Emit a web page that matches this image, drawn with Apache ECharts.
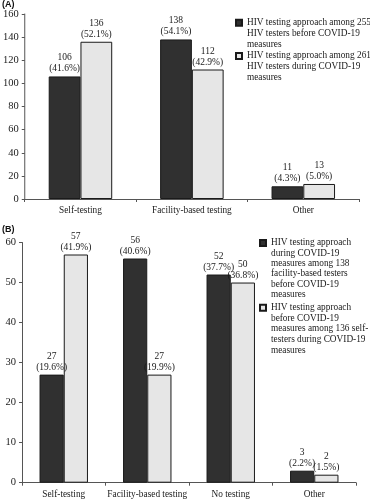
<!DOCTYPE html>
<html><head><meta charset="utf-8">
<script src="https://cdn.jsdelivr.net/npm/echarts@6/dist/echarts.min.js"></script>
<style>html,body{margin:0;padding:0;background:#fff}#c{width:370px;height:500px}</style>
</head><body><div id="c"></div>
<script>
// ---- Panel A data ----
const catsA = ['Self-testing', 'Facility-based testing', 'Other'];
const nameA1 = 'HIV testing approach among 255 HIV testers before COVID-19 measures';
const nameA2 = 'HIV testing approach among 261 HIV testers during COVID-19 measures';
const valsA1 = [106, 138, 11];
const valsA2 = [136, 112, 13];
const pctA1 = ['41.6%', '54.1%', '4.3%'];
const pctA2 = ['52.1%', '42.9%', '5.0%'];
const legA1 = ['HIV testing approach among 255', 'HIV testers before COVID-19', 'measures'];
const legA2 = ['HIV testing approach among 261', 'HIV testers during COVID-19', 'measures'];
const axisA = {min: 0, max: 160, interval: 20};

// ---- Panel B data ----
const catsB = ['Self-testing', 'Facility-based testing', 'No testing', 'Other'];
const nameB1 = 'HIV testing approach during COVID-19 measures among 138 facility-based testers before COVID-19 measures';
const nameB2 = 'HIV testing approach before COVID-19 measures among 136 self-testers during COVID-19 measures';
const valsB1 = [27, 56, 52, 3];
const valsB2 = [57, 27, 50, 2];
const pctB1 = ['19.6%', '40.6%', '37.7%', '2.2%'];
const pctB2 = ['41.9%', '19.9%', '36.8%', '1.5%'];
const legB1 = ['HIV testing approach', 'during COVID-19', 'measures among 138', 'facility-based testers', 'before COVID-19', 'measures'];
const legB2 = ['HIV testing approach', 'before COVID-19', 'measures among 136 self-', 'testers during COVID-19', 'measures'];
const axisB = {min: 0, max: 60, interval: 10};

const SERIF = 'Liberation Serif';
const TXT = '#1a1a1a';
const DARK = '#303030';
const LIGHT = '#e6e6e6';
const EDGE = '#1a1a1a';

function mkLegend(name, lines, left, firstY, lh) {
  const n = lines.length;
  const H = n * lh;
  const a = lh / 2 - 3, b = lh / 2 + 3;
  // square aligned with first text line; invisible move-to points stretch the icon box to the text block height
  const icon = 'path://M0,0 M0,' + a + ' L6,' + a + ' L6,' + b + ' L0,' + b + ' Z M6,' + H;
  return {
    show: true, type: 'plain', orient: 'vertical', padding: 0,
    left: left, top: firstY - lh / 2,
    icon: icon, itemWidth: 6, itemHeight: H,
    data: [name],
    formatter: () => lines.join('\n'),
    selectedMode: false,
    textStyle: {fontFamily: SERIF, fontSize: 9.3, color: TXT, lineHeight: lh}
  };
}

function xAx(cats, gridIndex) {
  return {
    type: 'category', data: cats, gridIndex: gridIndex,
    axisLine: {lineStyle: {color: '#555', width: 1}},
    axisTick: {show: true, length: 3, lineStyle: {color: '#555'}},
    axisLabel: {fontFamily: SERIF, fontSize: 9.3, color: TXT, margin: 7, interval: 0}
  };
}
function yAx(ax, gridIndex) {
  return {
    type: 'value', gridIndex: gridIndex, min: ax.min, max: ax.max, interval: ax.interval,
    axisLine: {show: true, lineStyle: {color: '#555', width: 1}},
    axisTick: {show: true, length: 3, lineStyle: {color: '#555'}},
    splitLine: {show: false},
    axisLabel: {fontFamily: SERIF, fontSize: 10.5, color: TXT, margin: 6}
  };
}
function bar(name, vals, pcts, color, axisIndex, catGap) {
  return {
    type: 'bar', name: name, data: vals, xAxisIndex: axisIndex, yAxisIndex: axisIndex,
    barGap: '0%', barCategoryGap: catGap,
    itemStyle: {color: color, borderColor: EDGE, borderWidth: 1},
    label: {show: true, position: 'top', distance: 2, fontFamily: SERIF, fontSize: 9.5,
      color: TXT, lineHeight: 11,
      formatter: p => p.value + '\n(' + pcts[p.dataIndex] + ')'},
    animation: false
  };
}

const chart = echarts.init(document.getElementById('c'), null, {renderer: 'canvas'});
chart.setOption({
  animation: false,
  backgroundColor: '#fff',
  grid: [
    {left: 21, right: 11, top: 14, bottom: 301},
    {left: 22, right: 14, top: 242.5, bottom: 17.3}
  ],
  xAxis: [xAx(catsA, 0), xAx(catsB, 1)],
  yAxis: [yAx(axisA, 0), yAx(axisB, 1)],
  legend: [
    mkLegend(nameA1, legA1, 235, 21.7, 10.7),
    mkLegend(nameA2, legA2, 235, 55, 10.7),
    mkLegend(nameB1, legB1, 259, 242, 10.3),
    mkLegend(nameB2, legB2, 259, 306.7, 10.6)
  ],
  series: [
    bar(nameA1, valsA1, pctA1, DARK, 0, '43%'),
    bar(nameA2, valsA2, pctA2, LIGHT, 0, '43%'),
    bar(nameB1, valsB1, pctB1, DARK, 1, '42%'),
    bar(nameB2, valsB2, pctB2, LIGHT, 1, '42%')
  ],
  graphic: [
    {type: 'text', left: 2, top: 0, style: {text: '(A)', font: 'bold 9px "Liberation Sans"', fill: '#111'}},
    {type: 'text', left: 2, top: 225, style: {text: '(B)', font: 'bold 9px "Liberation Sans"', fill: '#111'}}
  ]
});
</script></body></html>
